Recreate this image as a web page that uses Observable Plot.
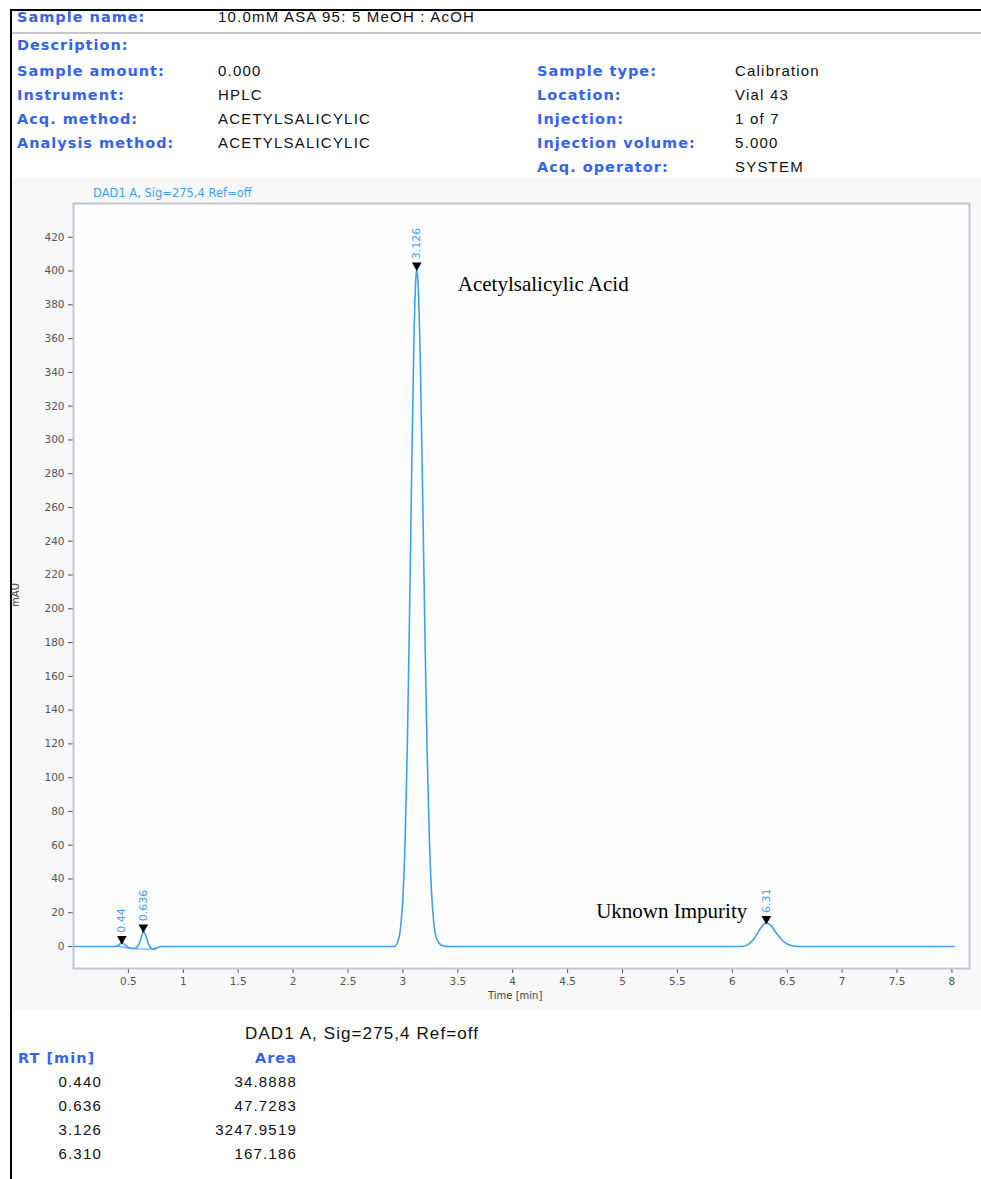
<!DOCTYPE html>
<html><head><meta charset="utf-8">
<script src="https://cdn.jsdelivr.net/npm/d3@7"></script>
<script src="https://cdn.jsdelivr.net/npm/@observablehq/plot@0.6"></script>
<style>
body{margin:0;background:#fff;}
#page{position:relative;width:981px;height:1179px;overflow:hidden;background:#fff;font-family:"Liberation Sans",Arial,sans-serif;}
.lbl{position:absolute;font-family:"DejaVu Sans",sans-serif;font-weight:bold;font-size:14.5px;color:#3563ec;line-height:18px;white-space:nowrap;letter-spacing:1px;}
.val{position:absolute;font-family:"Liberation Sans",Arial,sans-serif;font-size:15px;color:#111;line-height:18px;white-space:nowrap;letter-spacing:1.2px;}
.num{position:absolute;font-family:"Liberation Sans",Arial,sans-serif;font-size:15px;color:#111;line-height:18px;white-space:nowrap;text-align:right;letter-spacing:1.2px;}
</style></head>
<body><div id="page"></div>
<script>
// ---------- data ----------
const leftLabels = ["Sample name:","Description:","Sample amount:","Instrument:","Acq. method:","Analysis method:"];
const leftValues = ["10.0mM ASA 95: 5 MeOH : AcOH","","0.000","HPLC","ACETYLSALICYLIC","ACETYLSALICYLIC"];
const rightLabels = ["Sample type:","Location:","Injection:","Injection volume:","Acq. operator:"];
const rightValues = ["Calibration","Vial 43","1 of 7","5.000","SYSTEM"];

const signalTitle = "DAD1 A, Sig=275,4 Ref=off";
const xTicks = [0.5,1,1.5,2,2.5,3,3.5,4,4.5,5,5.5,6,6.5,7,7.5,8];
const yTicks = [0,20,40,60,80,100,120,140,160,180,200,220,240,260,280,300,320,340,360,380,400,420];

// chromatogram trace: time [min], signal [mAU]
const traceTime = [0.01,0.38,0.41,0.44,0.47,0.50,0.55,0.59,0.62,0.636,0.66,0.69,0.72,0.76,0.80,
  2.92,2.96,2.98,3.00,3.02,3.04,3.06,3.08,3.10,3.115,3.126,3.14,3.16,3.18,3.20,3.22,3.24,3.26,3.28,3.30,3.33,3.37,3.42,
  6.08,6.14,6.19,6.24,6.28,6.31,6.35,6.40,6.45,6.50,6.56,6.62,8.02];
const traceSignal = [0,0,0.8,2.2,1.0,-0.5,-1.2,0.5,6,9,6,0.5,-1.5,-0.8,0,
  0,4,12,29,62,118,195,282,358,392,401,390,341,267,187,117,66,33,15,6,2,0.3,0,
  0,1,4,9,12.8,14,12.5,8,4,1.5,0.3,0,0];

// integration baselines of the small early peaks
const baseX1 = [0.40,0.56], baseY1 = [0.2,-1.4], baseX2 = [0.56,0.75], baseY2 = [-1.4,-1.6];

// peak marks
const peakRT = [0.44,0.636,3.126,6.31];
const peakHeight = [2.2,9,401,14];
const peakLabel = ["0.44","0.636","3.126","6.31"];

const annotText = ["Acetylsalicylic Acid","Uknown Impurity"];
const annotX = [3.5,4.76];
const annotY = [392,21];

const tableRT = ["0.440","0.636","3.126","6.310"];
const tableArea = ["34.8888","47.7283","3247.9519","167.186"];

// ---------- layout ----------
const page = document.getElementById("page");
function add(cls, text, left, top, extra){
  const d = document.createElement("div");
  d.className = cls; d.textContent = text;
  d.style.left = left + "px"; d.style.top = top + "px";
  if (extra) Object.assign(d.style, extra);
  page.appendChild(d); return d;
}
function box(left, top, w, h, bg){
  const d = document.createElement("div");
  Object.assign(d.style,{position:"absolute",left:left+"px",top:top+"px",width:w+"px",height:h+"px",background:bg});
  page.appendChild(d);
}
// chart panel background
box(12, 178, 969, 832, "#f8f8f9");
// borders
box(10, 9, 971, 2, "#000");
box(10, 9, 2, 1170, "#000");
box(12, 32, 969, 2, "#c8c8cc");

const leftY = [8, 36, 62, 86, 110, 134];
leftLabels.forEach((t,i)=>{ add("lbl", t, 17, leftY[i]); add("val", leftValues[i], 218, leftY[i]); });
const rightY = [62, 86, 110, 134, 158];
rightLabels.forEach((t,i)=>{ add("lbl", t, 537, rightY[i]); add("val", rightValues[i], 735, rightY[i]); });

// chart texts
const blue = "#3f9ff2";
add("val", signalTitle, 93, 187, {fontFamily:"DejaVu Sans", fontSize:"11.5px", color:blue, letterSpacing:"0", lineHeight:"12px"});
add("val", "mAU", 4, 589, {fontFamily:"DejaVu Sans", fontSize:"10px", color:"#444", letterSpacing:"0", lineHeight:"12px", transform:"rotate(-90deg)"});
add("val", "Time [min]", 488, 990, {fontFamily:"DejaVu Sans", fontSize:"10px", color:"#444", letterSpacing:"0", lineHeight:"12px"});

// table
add("val", signalTitle, 245, 1025, {fontSize:"17px", letterSpacing:"1.1px"});
add("lbl", "RT [min]", 18, 1049);
add("lbl", "Area", 240, 1049, {width:"57px", textAlign:"right"});
const rowY = [1073, 1097, 1121, 1145];
tableRT.forEach((t,i)=>{
  add("num", t, 30, rowY[i], {width:"72px"});
  add("num", tableArea[i], 177, rowY[i], {width:"120px"});
});

// ---------- chart ----------
const trace = traceTime.map((t,i)=>({t, v: traceSignal[i]}));
const baselines = baseX1.map((x,i)=>({x1:x, y1:baseY1[i], x2:baseX2[i], y2:baseY2[i]}));
const peaks = peakRT.map((rt,i)=>({rt, h: peakHeight[i], label: peakLabel[i]}));
const annots = annotText.map((t,i)=>({t, x: annotX[i], y: annotY[i]}));

const chart = Plot.plot({
  width: 981, height: 832,
  marginLeft: 73, marginRight: 12, marginTop: 25, marginBottom: 42,
  style: {background:"transparent", fontFamily:"DejaVu Sans", fontSize:"10.5px", color:"#555"},
  x: {domain:[0,8.16], ticks: xTicks, tickSize:5, tickFormat: d => String(d), label:null},
  y: {domain:[-13,440], ticks: yTicks, tickSize:5, tickFormat: d => String(d), label:null},
  marks: [
    Plot.frame({fill:"#fefefe", stroke:"#c3c5d4", strokeWidth:2}),
    Plot.link(baselines, {x1:"x1", y1:"y1", x2:"x2", y2:"y2", stroke: blue, strokeWidth:1}),
    Plot.line(trace, {x:"t", y:"v", stroke: blue, strokeWidth:1.6, curve:"monotone-x"}),
    Plot.dot(peaks, {x:"rt", y:"h", symbol:"triangle", rotate:180, fill:"#000", stroke:"none", r:3.6, dy:-4}),
    Plot.text(peaks, {x:"rt", y:"h", text:"label", rotate:-90, textAnchor:"start", dy:-10, fill: blue, fontSize:11}),
    Plot.text(annots, {x:"x", y:"y", text:"t", textAnchor:"start", fill:"#000", fontSize:21, fontFamily:"Liberation Serif"})
  ]
});
chart.style.position = "absolute";
chart.style.left = "0px";
chart.style.top = "178px";
page.appendChild(chart);
</script>
</body></html>
